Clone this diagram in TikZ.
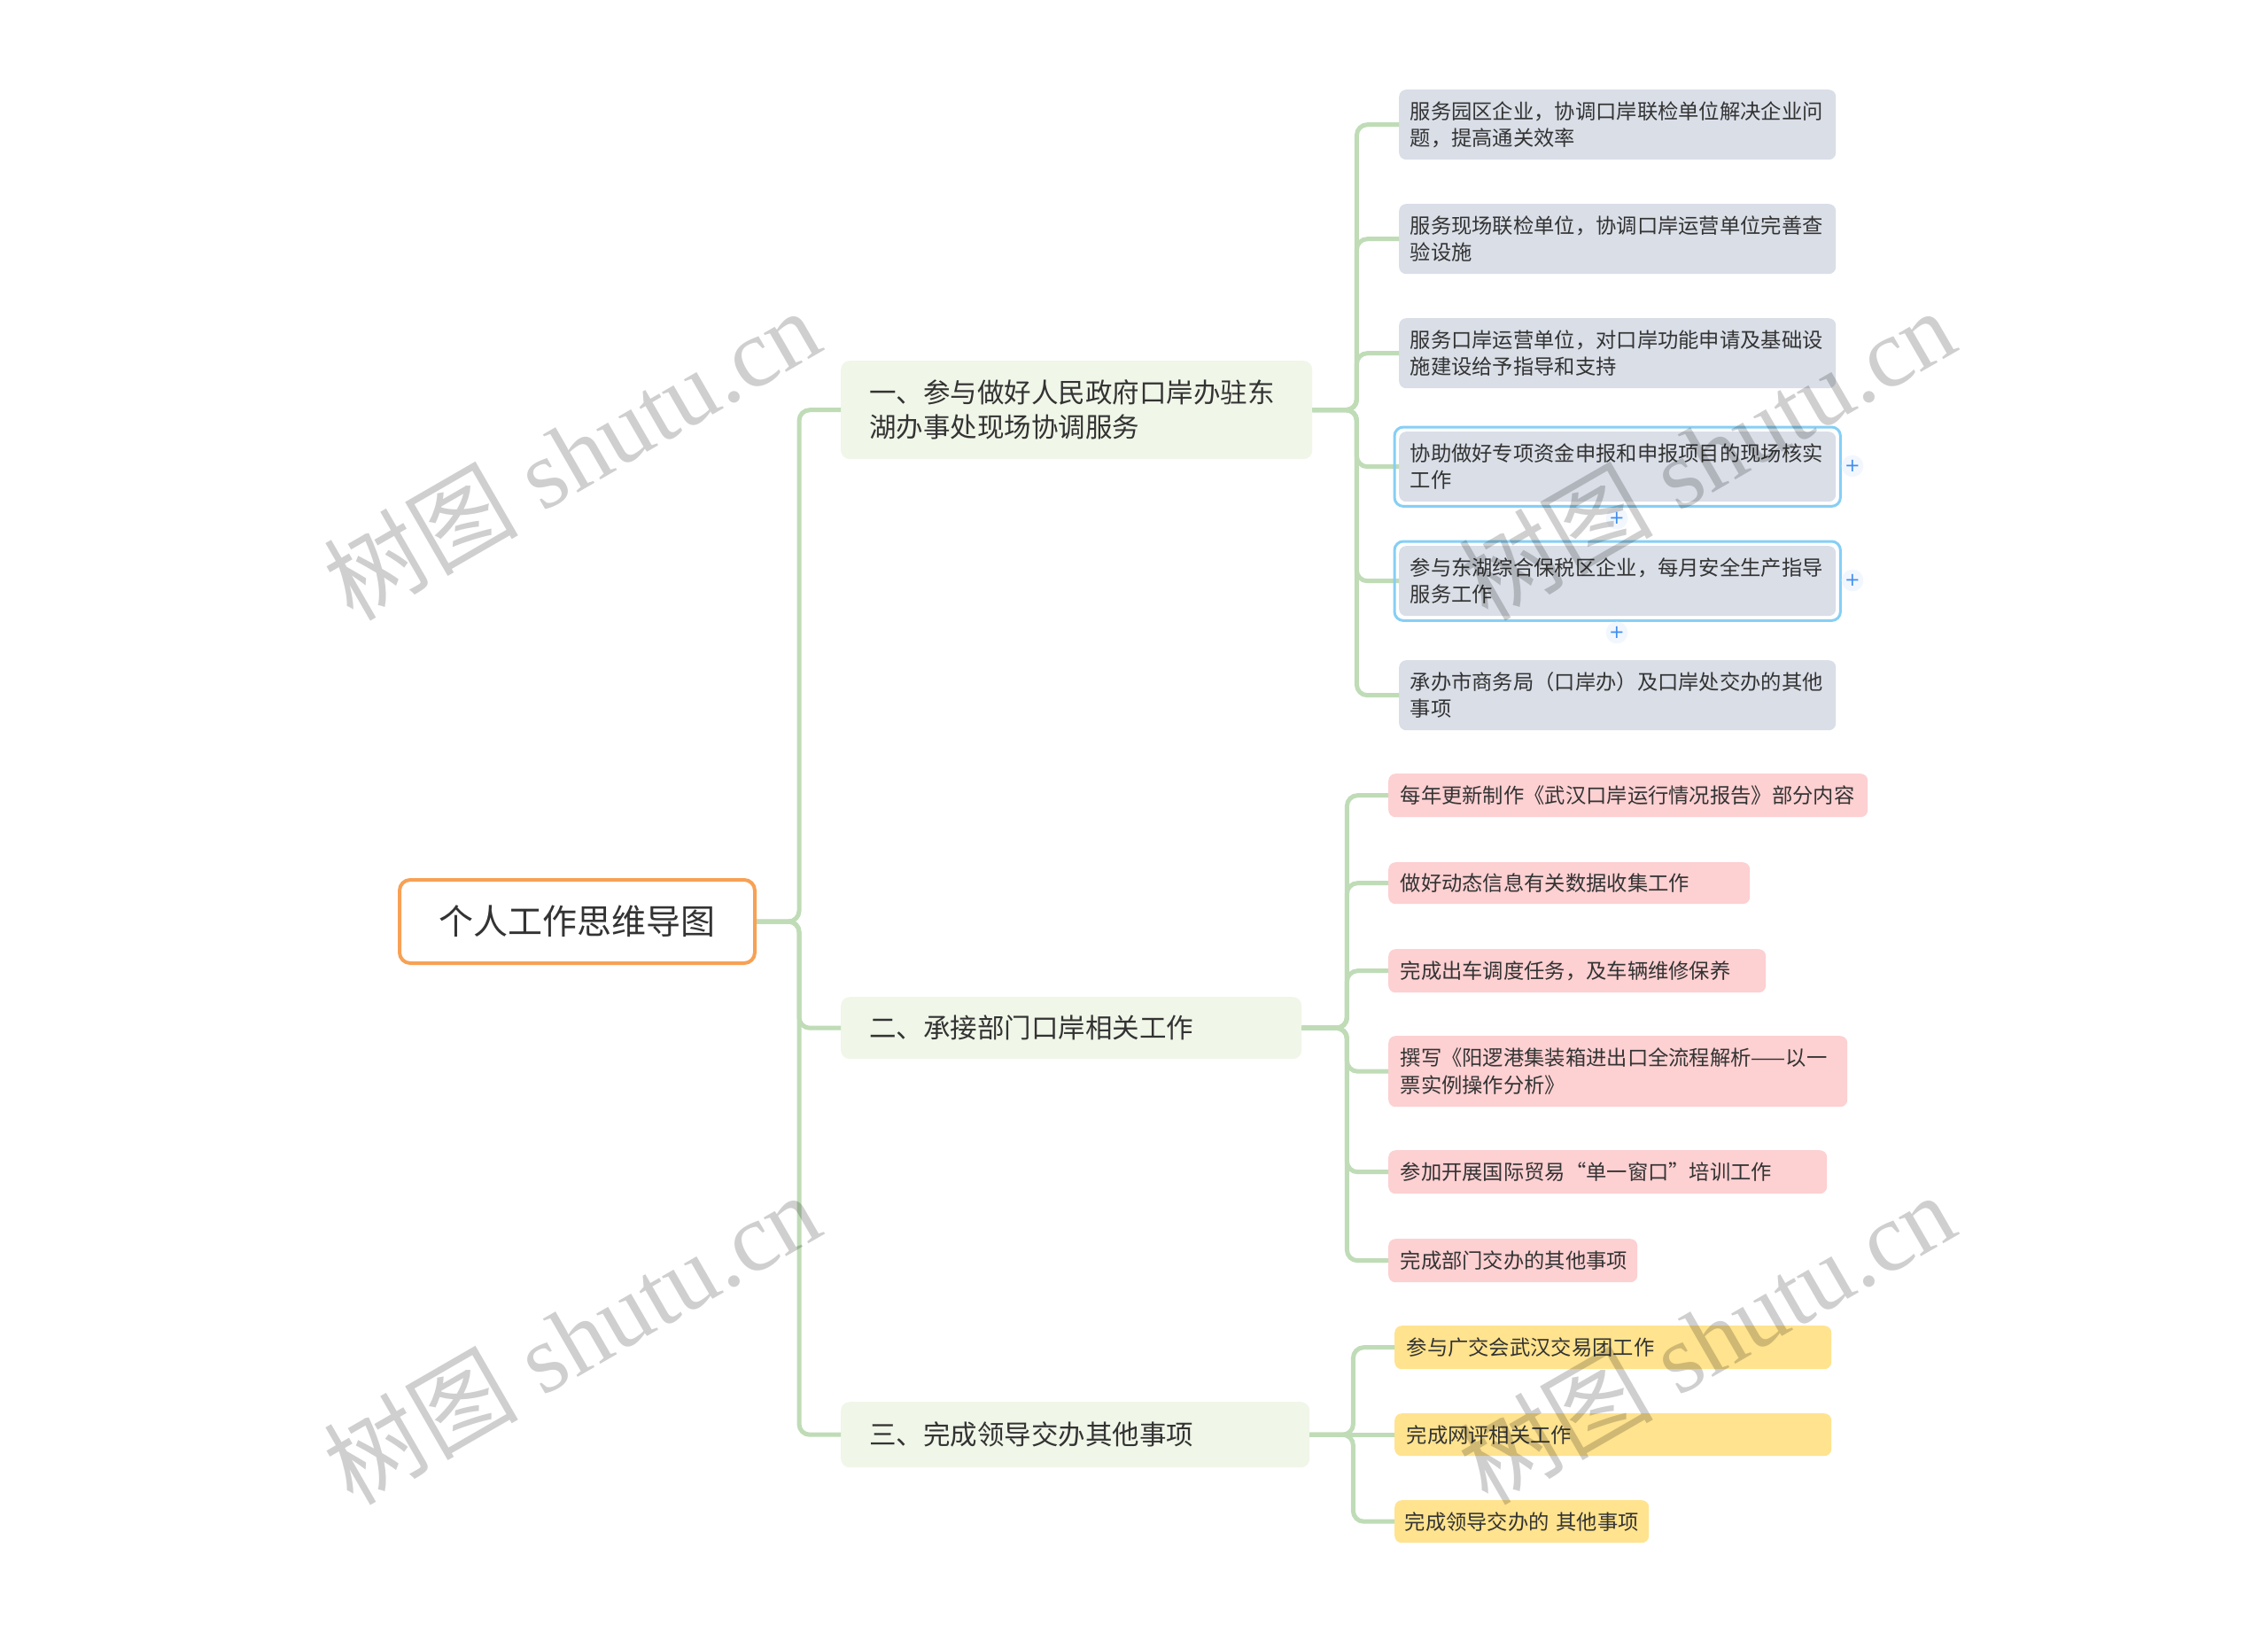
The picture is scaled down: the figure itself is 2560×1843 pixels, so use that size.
\documentclass[tikz,border=0pt]{standalone}
\usepackage{fontspec}
\newfontfamily\cjk{Noto Sans CJK SC}
\newfontfamily\wmserif{Liberation Serif}
\newfontfamily\symfont{DejaVu Sans}
\usetikzlibrary{calc}
\definecolor{connc}{HTML}{BFDCB7}
\definecolor{lvfill}{HTML}{F0F6E8}
\definecolor{greyc}{HTML}{D9DEE7}
\definecolor{pinkc}{HTML}{FDD0D2}
\definecolor{yellc}{HTML}{FFE38E}
\definecolor{rootc}{HTML}{F7A155}
\definecolor{selc}{HTML}{86CFF5}
\definecolor{plusc}{HTML}{3F8EF0}
\definecolor{txt}{HTML}{333333}
\tikzset{
  conn/.style={draw=connc, line width=5pt, rounded corners=12pt},
  rootbox/.style={draw=rootc, line width=4pt, fill=white, rounded corners=12pt,
    minimum width=401pt, minimum height=94pt, inner sep=0pt, text=txt,
    font=\cjk\fontsize{39}{46}\selectfont},
  lvone/.style={anchor=north west, fill=lvfill, rounded corners=10pt, inner xsep=32pt,
    inner ysep=0pt, align=left, text=txt, font=\cjk\fontsize{30.5}{39}\selectfont},
  sub/.style={anchor=north west, rounded corners=8pt, inner xsep=13.5pt, inner ysep=0pt,
    align=left, text=txt, font=\cjk\fontsize{23.3}{30.5}\selectfont},
  greybox/.style={sub, fill=greyc, inner xsep=12.5pt, text width=468pt, minimum height=79pt},
  pinkbox/.style={sub, fill=pinkc, minimum height=49pt},
  yellbox/.style={sub, fill=yellc, minimum height=48pt},
  selbox/.style={draw=selc, line width=3pt, rounded corners=10pt},
  plusm/.style={circle, fill=plusc!7, inner sep=1pt, text=plusc,
    font=\symfont\fontsize{21}{21}\selectfont},
  wm/.style={text=black, opacity=0.19, inner sep=0pt,
    font=\wmserif\fontsize{110}{110}\selectfont}
}
\begin{document}
\begin{tikzpicture}[x=1pt,y=-1pt]
\fill[white] (0,0) rectangle (2560,1843);
\useasboundingbox (0,0) rectangle (2560,1843);

% root and level one
\node[rootbox] (root) at (651.5,1040) {个人工作思维导图};
\node[lvone, text width=468pt, minimum height=111pt] (b1) at (949,407)
  {一、参与做好人民政府口岸办驻东\\湖办事处现场协调服务};
\node[lvone, text width=456pt, minimum height=70pt] (b2) at (949,1125)
  {二、承接部门口岸相关工作};
\node[lvone, text width=465pt, minimum height=74pt] (b3) at (949,1582)
  {三、完成领导交办其他事项};

% group one
\node[greybox] (g1) at (1579,101) {服务园区企业，协调口岸联检单位解决企业问\\题，提高通关效率};
\node[greybox] (g2) at (1579,230) {服务现场联检单位，协调口岸运营单位完善查\\验设施};
\node[greybox] (g3) at (1579,359) {服务口岸运营单位，对口岸功能申请及基础设\\施建设给予指导和支持};
\node[greybox] (g4) at (1579,487) {协助做好专项资金申报和申报项目的现场核实\\工作};
\node[greybox] (g5) at (1579,616) {参与东湖综合保税区企业，每月安全生产指导\\服务工作};
\node[greybox] (g6) at (1579,745) {承办市商务局（口岸办）及口岸处交办的其他\\事项};

% group two
\node[pinkbox, text width=514pt] (p1) at (1567,873) {每年更新制作《武汉口岸运行情况报告》部分内容};
\node[pinkbox, text width=381pt, minimum height=47pt] (p2) at (1567,973) {做好动态信息有关数据收集工作};
\node[pinkbox, text width=399pt] (p3) at (1567,1071) {完成出车调度任务，及车辆维修保养};
\node[pinkbox, text width=491pt, minimum height=80pt] (p4) at (1567,1169) {撰写《阳逻港集装箱进出口全流程解析——以一\\票实例操作分析》};
\node[pinkbox, text width=468pt] (p5) at (1567,1298) {参加开展国际贸易“单一窗口”培训工作};
\node[pinkbox, text width=254pt] (p6) at (1567,1398) {完成部门交办的其他事项};

% group three
\node[yellbox, text width=466pt, minimum height=49pt] (y1) at (1574,1496) {参与广交会武汉交易团工作};
\node[yellbox, text width=466pt] (y2) at (1574,1595) {完成网评相关工作};
\node[yellbox, inner xsep=11.5pt, text width=264pt] (y3) at (1574,1693) {完成领导交办的~其他事项};

% junction points
\coordinate (t0) at ([xshift=48pt]root.east);
\coordinate (t1) at ([xshift=50pt]b1.east);
\coordinate (t2) at ([xshift=51pt]b2.east);
\coordinate (t3) at ([xshift=49pt]b3.east);

% connectors
\foreach \c in {b1,b2,b3} \draw[conn] (root.east) -- (t0) |- (\c.west);
\foreach \c in {g1,g2,g3,g4,g5,g6} \draw[conn] (b1.east) -- (t1) |- (\c.west);
\foreach \c in {p1,p2,p3,p4,p5,p6} \draw[conn] (b2.east) -- (t2) |- (\c.west);
\draw[conn] (b3.east) -- (t3) |- (y1.west);
\draw[conn] (b3.east) -- (y2.west);
\draw[conn] (b3.east) -- (t3) |- (y3.west);

% selection frames and plus marks
\draw[selbox] ($(g4.north west)+(-5,-5)$) rectangle ($(g4.south east)+(5,5)$);
\draw[selbox] ($(g5.north west)+(-5,-5)$) rectangle ($(g5.south east)+(5,5)$);
\node[plusm] (pa) at (2091,526) {+};
\node[plusm] (pb) at (1825,585) {+};
\node[plusm] (pc) at (2091,655) {+};
\node[plusm] (pd) at (1825,714) {+};

% watermarks
\node[wm, rotate=30] (wm1) at (645,512) {{\cjk 树图} shutu.cn};
\node[wm, rotate=30] (wm2) at (1926,512) {{\cjk 树图} shutu.cn};
\node[wm, rotate=30] (wm3) at (645,1510) {{\cjk 树图} shutu.cn};
\node[wm, rotate=30] (wm4) at (1926,1510) {{\cjk 树图} shutu.cn};
\end{tikzpicture}
\end{document}
